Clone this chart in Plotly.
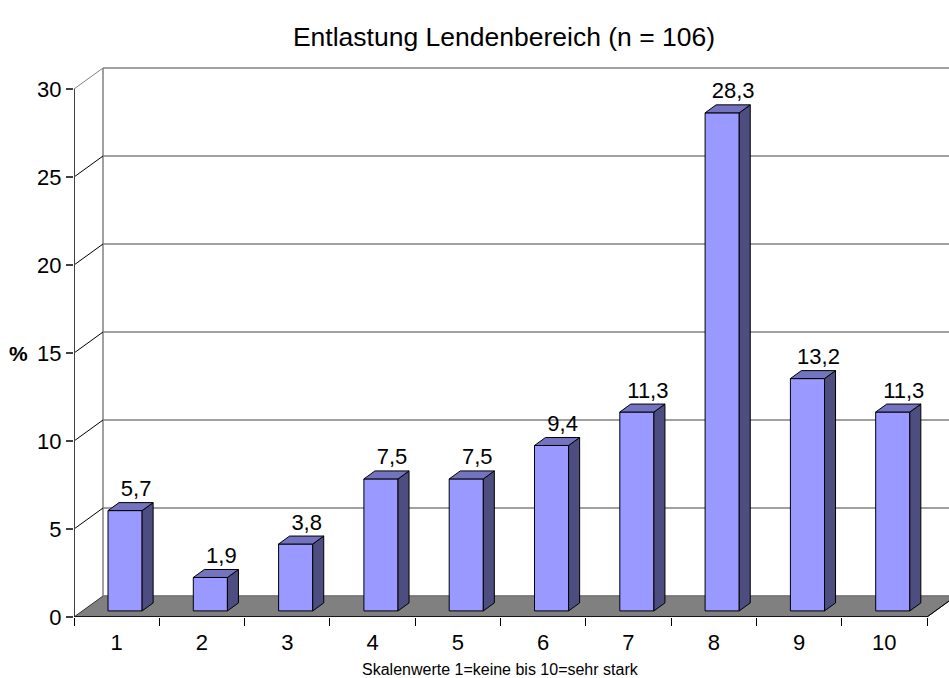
import plotly.graph_objects as go

# ---- data ----
categories = [1, 2, 3, 4, 5, 6, 7, 8, 9, 10]
cat_labels = ["1", "2", "3", "4", "5", "6", "7", "8", "9", "10"]
values = [5.7, 1.9, 3.8, 7.5, 7.5, 9.4, 11.3, 28.3, 13.2, 11.3]
y_ticks = [0, 5, 10, 15, 20, 25, 30]

# ---- geometry (pixels -> data units) ----
W, H = 949, 678
PX_X = 85.3          # pixels per category
PX_Y = 17.6          # pixels per percent
ML, MR, MB, MT = 74, 0, 61, 50
plot_w = W - ML - MR
plot_h = H - MB - MT
x0 = 0.5
x_range = [x0, x0 + plot_w / PX_X]
y_range = [0, plot_h / PX_Y]

DX = 29 / PX_X       # wall depth offset (data units)
DY = 21 / PX_Y
F_FRONT = 0.29       # bar front depth fraction
F_DEPTH = 0.38       # bar depth fraction
BW = 0.4             # bar width in category units

fdx, fdy = F_FRONT * DX, F_FRONT * DY
bdx, bdy = F_DEPTH * DX, F_DEPTH * DY

FRONT = "#9999FF"
TOP = "#7373C0"
SIDE = "#4D4D80"
FONT = "Liberation Sans, Arial, sans-serif"

fig = go.Figure()

# front faces of bars
fig.add_trace(go.Bar(
    x=[c + fdx for c in categories], y=values, base=fdy, width=BW,
    marker=dict(color=FRONT, line=dict(color="black", width=1)),
    showlegend=False, hoverinfo="skip"))

# side and top faces
sx, sy, tx, ty = [], [], [], []
for c, v in zip(categories, values):
    xl = c - BW / 2 + fdx
    xr = c + BW / 2 + fdx
    yb = fdy
    yt = fdy + v
    sx += [xr, xr + bdx, xr + bdx, xr, xr, None]
    sy += [yb, yb + bdy, yt + bdy, yt, yb, None]
    tx += [xl, xl + bdx, xr + bdx, xr, xl, None]
    ty += [yt, yt + bdy, yt + bdy, yt, yt, None]
fig.add_trace(go.Scatter(x=sx, y=sy, mode="lines", fill="toself", fillcolor=SIDE,
                         line=dict(color="black", width=1), showlegend=False, hoverinfo="skip"))
fig.add_trace(go.Scatter(x=tx, y=ty, mode="lines", fill="toself", fillcolor=TOP,
                         line=dict(color="black", width=1), showlegend=False, hoverinfo="skip"))

# data labels
lab_off = 12 / PX_Y
fig.add_trace(go.Scatter(
    x=[c + fdx + bdx for c in categories],
    y=[v + fdy + bdy + lab_off for v in values],
    mode="text", text=[f"{v:.1f}".replace(".", ",") for v in values],
    textposition="middle center", textfont=dict(size=22, color="black", family=FONT),
    cliponaxis=False, showlegend=False, hoverinfo="skip"))

shapes = []
n = len(categories)
x_end = x0 + n
# floor
shapes.append(dict(type="path", xref="x", yref="y", layer="below",
                   path=f"M{x0},0 L{x_end},0 L{x_end + DX},{DY} L{x0 + DX},{DY} Z",
                   fillcolor="#808080", line=dict(color="#333333", width=1)))
# back wall gridlines
for k in y_ticks:
    shapes.append(dict(type="line", xref="x", yref="y", layer="below",
                       x0=x0 + DX, x1=x_range[1], y0=k + DY, y1=k + DY,
                       line=dict(color="#808080", width=1.5)))
# left wall vertical edge
shapes.append(dict(type="line", xref="x", yref="y", layer="below",
                   x0=x0 + DX, x1=x0 + DX, y0=DY, y1=y_ticks[-1] + DY,
                   line=dict(color="#808080", width=1.5)))
# side wall diagonals
for k in y_ticks[1:]:
    col = "#808080" if k == y_ticks[-1] else "black"
    shapes.append(dict(type="line", xref="x", yref="y", layer="below",
                       x0=x0, x1=x0 + DX, y0=k, y1=k + DY,
                       line=dict(color=col, width=1)))
# front y-axis line
shapes.append(dict(type="line", xref="x", yref="y",
                   x0=x0, x1=x0, y0=0, y1=y_ticks[-1],
                   line=dict(color="#404040", width=2)))
# front x-axis line
shapes.append(dict(type="line", xref="x", yref="y",
                   x0=x0, x1=x_end, y0=0, y1=0,
                   line=dict(color="black", width=1.5)))
# floor right edge
shapes.append(dict(type="line", xref="x", yref="y",
                   x0=x_end, x1=x_end + DX, y0=0, y1=DY,
                   line=dict(color="black", width=1)))

fig.update_layout(
    width=W, height=H,
    margin=dict(l=ML, r=MR, t=MT, b=MB, pad=0, autoexpand=False),
    paper_bgcolor="white", plot_bgcolor="white",
    font=dict(family=FONT, color="black"),
    title=dict(text="Entlastung Lendenbereich (n = 106)", x=504 / W, xanchor="center",
               y=1 - 37 / H, yanchor="middle", font=dict(size=26.5, family=FONT, color="black")),
    shapes=shapes,
    bargap=0,
    hovermode=False,
    xaxis=dict(range=x_range, showgrid=False, zeroline=False, showline=False,
               tickmode="array", tickvals=[x0 + i for i in range(n + 1)],
               showticklabels=False, ticks="outside", ticklen=8, tickcolor="black", tickwidth=1),
    xaxis2=dict(range=x_range, overlaying="x", side="bottom", showgrid=False, zeroline=False,
                showline=False, tickmode="array", tickvals=categories, ticktext=cat_labels,
                ticks="outside", ticklen=6, tickcolor="rgba(0,0,0,0)",
                tickfont=dict(size=22, family=FONT, color="black")),
    yaxis=dict(range=y_range, showgrid=False, zeroline=False, showline=False,
               tickmode="array", tickvals=y_ticks, ticks="outside", ticklen=7,
               tickcolor="#404040", tickwidth=1.5,
               tickfont=dict(size=22, family=FONT, color="black")),
    annotations=[
        dict(text="<b>%</b>", xref="paper", yref="y", x=(19 - ML) / plot_w, y=15,
             showarrow=False, font=dict(size=21, family=FONT, color="black"),
             xanchor="center", yanchor="middle"),
        dict(text="Skalenwerte 1=keine bis 10=sehr stark", xref="paper", yref="paper",
             x=(500 - ML) / plot_w, y=(617 - 669) / plot_h, showarrow=False,
             font=dict(size=16, family=FONT, color="black"),
             xanchor="center", yanchor="middle"),
    ],
)
# dummy trace to activate xaxis2
fig.add_trace(go.Scatter(x=[categories[0]], y=[0], xaxis="x2", mode="markers",
                         marker=dict(opacity=0), showlegend=False, hoverinfo="skip"))

fig.write_html("out.html", config={"displayModeBar": False, "staticPlot": True},
               post_script="document.body.style.margin='0';document.body.style.padding='0';"
                           "document.body.style.overflow='hidden';")
